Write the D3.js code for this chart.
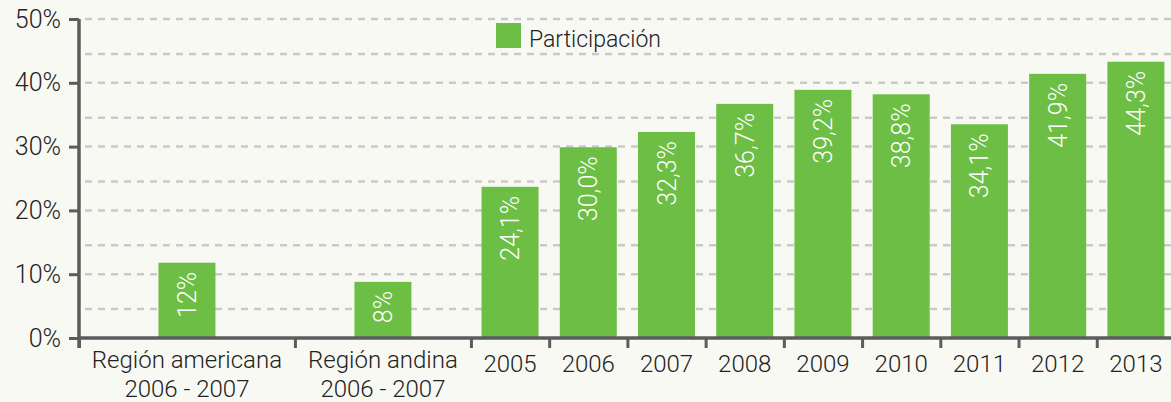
<!DOCTYPE html>
<html>
<head>
<meta charset="utf-8">
<script src="https://cdn.jsdelivr.net/npm/d3@7"></script>
<style>
  html, body { margin: 0; padding: 0; background: #f9f9f4; }
  svg { display: block; font-family: Roboto, "Open Sans", sans-serif; font-weight: 300; }
</style>
</head>
<body>
<div id="chart"></div>
<script>
// data
var categories = ["Región americana|2006 - 2007", "Región andina|2006 - 2007",
  "2005", "2006", "2007", "2008", "2009", "2010", "2011", "2012", "2013"];
var values = [11.8, 8.8, 23.7, 29.9, 32.3, 36.7, 38.9, 38.2, 33.5, 41.4, 43.3];
var valueLabels = ["12%", "8%", "24,1%", "30,0%", "32,3%", "36,7%", "39,2%", "38,8%", "34,1%", "41,9%", "44,3%"];
var yTicks = [0, 10, 20, 30, 40, 50];
var seriesName = "Participación";

// layout: the two region columns are wider than the yearly ones
var bandUnits = [2.76, 2.25, 1, 1, 1, 1, 1, 1, 1, 1, 1];

var width = 1171, height = 402;
var plotLeft = 79, plotTop = 19, base = 338, plotRight = 1175;
var barW = 57;
var green = "#6dbe45", axisCol = "#5c5c5e", gridCol = "#c9c9c9";

var svg = d3.select("#chart").append("svg")
  .attr("width", width)
  .attr("height", height);

svg.append("rect").attr("width", width).attr("height", height).attr("fill", "#f9f9f4");

var edges = [0].concat(Array.from(d3.cumsum(bandUnits)));
var xu = d3.scaleLinear().domain([0, d3.sum(bandUnits)]).range([plotLeft, plotRight]);
var center = function (i) { return xu((edges[i] + edges[i + 1]) / 2); };

var y = d3.scaleLinear().domain([0, 50]).range([base, plotTop]);

// grid
var grid = svg.append("g");
grid.selectAll(".major")
  .data(yTicks.slice(1))
  .enter().append("line")
  .attr("x1", plotLeft + 6).attr("x2", width)
  .attr("y1", function (d) { return y(d); })
  .attr("y2", function (d) { return y(d); });
grid.selectAll(".minor")
  .data(d3.range(5, 50, 10))
  .enter().append("line")
  .attr("x1", plotLeft + 6).attr("x2", width)
  .attr("y1", function (d) { return y(d) + 3; })
  .attr("y2", function (d) { return y(d) + 3; });
grid.selectAll("line")
  .attr("stroke", gridCol)
  .attr("stroke-width", 2.5)
  .attr("stroke-dasharray", "7,6");

// bars
svg.selectAll(".bar")
  .data(values)
  .enter().append("rect")
  .attr("class", "bar")
  .attr("x", function (d, i) { return center(i) - barW / 2; })
  .attr("width", barW)
  .attr("y", function (d) { return y(d); })
  .attr("height", function (d) { return base - y(d); })
  .attr("fill", green);

// value labels, rotated inside the bars
svg.selectAll(".val")
  .data(values)
  .enter().append("text")
  .attr("class", "val")
  .attr("transform", function (d, i) {
    return "translate(" + (center(i) + 9) + "," + (y(d) + 9) + ") rotate(-90)";
  })
  .attr("text-anchor", "end")
  .attr("fill", "#fff")
  .style("font-size", "25px")
  .text(function (d, i) { return valueLabels[i]; });

// y axis
var yAxis = svg.append("g")
  .attr("transform", "translate(" + plotLeft + ",0)")
  .call(d3.axisLeft(y).tickValues(yTicks).tickSize(10).tickSizeOuter(0).tickPadding(8)
    .tickFormat(function (d) { return d + "%"; }));

// x axis: ticks on band edges
var xAxis = svg.append("g")
  .attr("transform", "translate(0," + base + ")")
  .call(d3.axisBottom(xu).tickValues(edges.slice(0, -1)).tickSize(10).tickSizeOuter(0)
    .tickFormat(""));

[yAxis, xAxis].forEach(function (a) {
  a.select(".domain").attr("stroke", axisCol).attr("stroke-width", 3.5);
  a.selectAll(".tick line").attr("stroke", axisCol).attr("stroke-width", 3);
});
xAxis.select(".domain").attr("d", "M" + plotLeft + ",0H" + width);
yAxis.select(".domain").attr("d", "M0," + plotTop + "V" + (base + 10));
yAxis.selectAll(".tick text")
  .attr("fill", "#222")
  .style("font-size", "25px")
  .style("font-family", "Roboto, sans-serif")
  .style("font-weight", 300);

// category labels
var cat = svg.append("g").selectAll("text")
  .data(categories)
  .enter().append("text")
  .attr("x", function (d, i) { return center(i); })
  .attr("y", function (d) { return d.indexOf("|") >= 0 ? 368 : 372; })
  .attr("text-anchor", "middle")
  .attr("fill", "#222")
  .style("font-size", "24px");
cat.each(function (d) {
  var parts = d.split("|");
  var t = d3.select(this);
  parts.forEach(function (p, k) {
    t.append("tspan")
      .attr("x", t.attr("x"))
      .attr("dy", k === 0 ? 0 : 29)
      .text(p);
  });
});

// legend
var legend = svg.append("g").attr("transform", "translate(496,23)");
legend.append("rect").attr("width", 25).attr("height", 25).attr("fill", green);
legend.append("text")
  .attr("x", 33).attr("y", 24)
  .attr("fill", "#222")
  .style("font-size", "23px")
  .text(seriesName);
</script>
</body>
</html>
